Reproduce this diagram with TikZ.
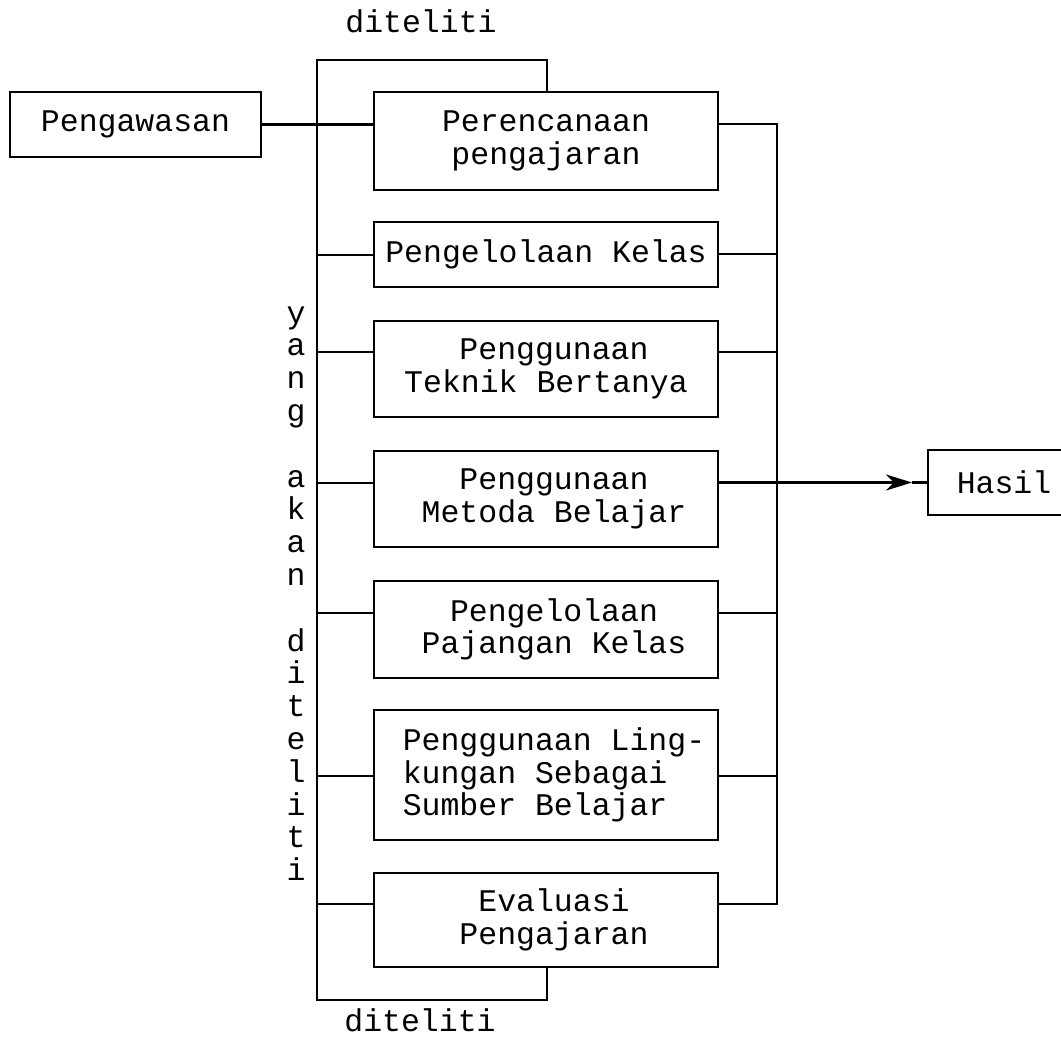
\documentclass[tikz,border=0pt]{standalone}
\usepackage{fontspec}
\newfontfamily\monof{Liberation Mono}
\usetikzlibrary{arrows.meta}
\begin{document}
\begin{tikzpicture}[x=1pt,y=-1pt,
  txt/.style={font=\monof\fontsize{31.5}{32.6}\selectfont},
  box/.style={txt,draw,line width=2.5pt,inner sep=0pt,align=center,minimum width=344pt},
  wire/.style={line width=2.5pt},
  lbl/.style={txt,inner sep=0pt,anchor=base}]
\useasboundingbox (0,0) rectangle (1061,1039);
% boxes
\node[box,minimum width=251pt,minimum height=65pt] (pw) at (135.5,124.5) {Pengawasan};
\node[box,minimum height=98pt] (p1) at (546,141) {Perencanaan\\pengajaran};
\node[box,minimum height=65pt] (p2) at (546,254.5) {Pengelolaan Kelas};
\node[box,minimum height=96pt] (p3) at (546,369) {\hspace*{16pt}Penggunaan\\Teknik Bertanya};
\node[box,minimum height=96pt] (p4) at (546,499) {\hspace*{16pt}Penggunaan\\\hspace*{16pt}Metoda Belajar};
\node[box,minimum height=97pt] (p5) at (546,629.5) {\hspace*{16pt}Pengelolaan\\\hspace*{16pt}Pajangan Kelas};
\node[box,minimum height=130pt,align=left] (p6) at (546,775) {\hspace*{16pt}Penggunaan Ling-\\\hspace*{16pt}kungan Sebagai\\\hspace*{16pt}Sumber Belajar};
\node[box,minimum height=94pt] (p7) at (546,920) {\hspace*{16pt}Evaluasi\\\hspace*{16pt}Pengajaran};
\node[box,minimum width=152pt,minimum height=65pt] (hasil) at (1004,482.5) {Hasil};
% labels
\node[lbl] (dtop) at (421,32) {diteliti};
\node[lbl] (dbot) at (420,1031) {diteliti};
\foreach \ch/\r in {y/0,a/1,n/2,g/3,a/5,k/6,a/7,n/8,d/10,i/11,t/12,e/13,l/14,i/15,t/16,i/17}
  \node[lbl] (v\r) at (296,{323+\r*32.8}) {\ch};
% left bracket
\coordinate (T1) at (317,60);
\coordinate (T2) at (547,60);
\coordinate (B1) at (317,1000);
\coordinate (B2) at (547,1000);
\draw[wire] (p1.north -| T2) -- (T2) -- (T1) -- (B1) -- (B2) -- (p7.south -| B2);
% left connectors
\draw[wire] (pw.east) -- (pw.east -| p1.west);
\coordinate (l2) at (317,255);
\coordinate (l3) at (317,352);
\coordinate (l4) at (317,483);
\coordinate (l5) at (317,613);
\coordinate (l6) at (317,776);
\coordinate (l7) at (317,904);
\draw[wire] (l2) -- (l2 -| p2.west);
\draw[wire] (l3) -- (l3 -| p3.west);
\draw[wire] (l4) -- (l4 -| p4.west);
\draw[wire] (l5) -- (l5 -| p5.west);
\draw[wire] (l6) -- (l6 -| p6.west);
\draw[wire] (l7) -- (l7 -| p7.west);
% right connectors
\coordinate (r1) at (777,124);
\coordinate (r2) at (777,254);
\coordinate (r3) at (777,352);
\coordinate (r5) at (777,613);
\coordinate (r6) at (777,776);
\coordinate (r7) at (777,904);
\draw[wire] (p1.east |- r1) -- (r1) -- (r7) -- (p7.east |- r7);
\draw[wire] (p2.east |- r2) -- (r2);
\draw[wire] (p3.east |- r3) -- (r3);
\draw[wire] (p5.east |- r5) -- (r5);
\draw[wire] (p6.east |- r6) -- (r6);
% arrow to Hasil
\coordinate (tip) at (912,482.5);
\draw[wire,-{Stealth[length=26pt,width=16pt,inset=8pt]}] (p4.east |- hasil.west) -- (tip);
\draw[wire] (tip) -- (hasil.west);
\end{tikzpicture}
\end{document}
